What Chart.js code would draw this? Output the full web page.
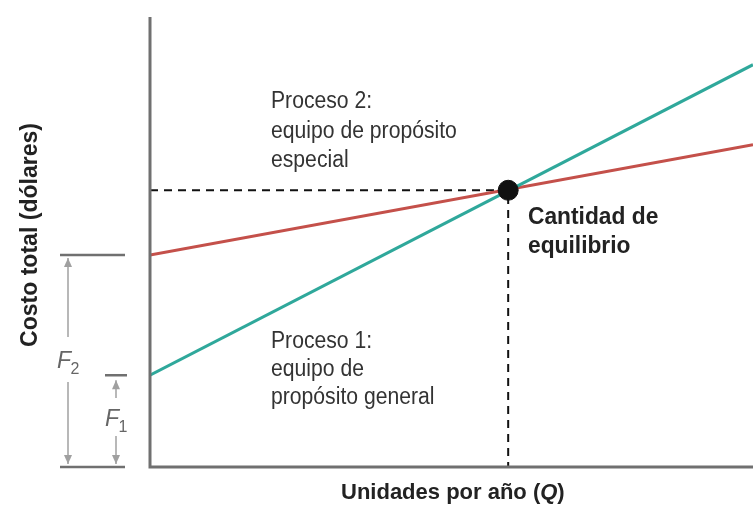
<!DOCTYPE html>
<html>
<head>
<meta charset="utf-8">
<script src="https://cdn.jsdelivr.net/npm/chart.js@4/dist/chart.umd.min.js"></script>
<style>
  body { margin: 0; background: #fff; }
  #wrap { width: 753px; height: 505px; }
</style>
</head>
<body>
<div id="wrap"><canvas id="chart" width="753" height="505"></canvas></div>
<script>
// units per year (start, end of the drawn range)
const units = [0, 100];
// total cost of each process at those units
const proceso1 = [20.4, 89.4];   // general purpose equipment
const proceso2 = [47.1, 71.6];   // special purpose equipment
// break-even point [units, cost]
const equilibrio = [59.4, 61.5];
// fixed costs
const fixedCosts = { F1: proceso1[0], F2: proceso2[0] };

const TEAL = "#2fa89b";
const RED = "#c4504a";
const GRAY = "#707070";
const LIGHT = "#a0a0a0";
const FONT = "'Liberation Sans', Arial, sans-serif";

// axes, fixed-cost brackets and text labels
const annotations = {
  id: "annotations",
  afterDatasetsDraw(chart) {
    const { ctx, chartArea: a, scales: { x, y } } = chart;
    ctx.save();

    // axes
    ctx.strokeStyle = GRAY;
    ctx.lineWidth = 3;
    ctx.beginPath();
    ctx.moveTo(a.left, a.top);
    ctx.lineTo(a.left, a.bottom);
    ctx.lineTo(a.right, a.bottom);
    ctx.stroke();

    // fixed cost brackets
    const y0 = y.getPixelForValue(0);
    const yF1 = y.getPixelForValue(fixedCosts.F1);
    const yF2 = y.getPixelForValue(fixedCosts.F2);
    ctx.lineWidth = 2.5;
    ctx.beginPath();
    ctx.moveTo(60, yF2); ctx.lineTo(125, yF2);
    ctx.moveTo(105, yF1); ctx.lineTo(127, yF1);
    ctx.moveTo(60, y0); ctx.lineTo(125, y0);
    ctx.stroke();

    const arrow = (cx, from, to) => {
      const dir = Math.sign(to - from);
      ctx.beginPath();
      ctx.moveTo(cx, from); ctx.lineTo(cx, to);
      ctx.stroke();
      ctx.beginPath();
      ctx.moveTo(cx, to);
      ctx.lineTo(cx - 4, to - dir * 9);
      ctx.lineTo(cx + 4, to - dir * 9);
      ctx.closePath();
      ctx.fill();
    };
    ctx.strokeStyle = LIGHT;
    ctx.fillStyle = LIGHT;
    ctx.lineWidth = 1.5;
    arrow(68, 337, yF2 + 3);
    arrow(68, 382, y0 - 3);
    arrow(116, 398, yF1 + 5);
    arrow(116, 436, y0 - 3);

    // F labels
    ctx.fillStyle = "#666";
    ctx.textAlign = "center";
    ctx.textBaseline = "alphabetic";
    const fLabel = (cx, cy, sub) => {
      ctx.font = "italic 23px " + FONT;
      ctx.fillText("F", cx - 4, cy);
      ctx.font = "16px " + FONT;
      ctx.fillText(sub, cx + 7, cy + 6);
    };
    fLabel(68, 368, "2");
    fLabel(116, 426, "1");

    // process labels
    ctx.fillStyle = "#333";
    ctx.textAlign = "left";
    const narrow = (txt, px, py, font, sx) => {
      ctx.save();
      ctx.translate(px, py);
      ctx.scale(sx, 1);
      ctx.font = font;
      ctx.fillText(txt, 0, 0);
      ctx.restore();
    };
    const reg = "23px " + FONT;
    const bold = "bold 23px " + FONT;
    narrow("Proceso 2:", 271, 108, reg, 0.92);
    narrow("equipo de propósito", 271, 138, reg, 0.92);
    narrow("especial", 271, 167, reg, 0.92);
    narrow("Proceso 1:", 271, 348, reg, 0.92);
    narrow("equipo de", 271, 376, reg, 0.92);
    narrow("propósito general", 271, 404, reg, 0.92);
    ctx.fillStyle = "#222";
    narrow("Cantidad de", 528, 224, bold, 0.99);
    narrow("equilibrio", 528, 253, bold, 0.99);

    // axis titles
    ctx.fillStyle = "#222";
    ctx.font = "bold 22px " + FONT;
    const t1 = "Unidades por año (";
    ctx.save();
    ctx.translate(341, 499);
    ctx.scale(1.0, 1);
    ctx.fillText(t1, 0, 0);
    let w = ctx.measureText(t1).width;
    ctx.font = "bold italic 22px " + FONT;
    ctx.fillText("Q", w, 0);
    w += ctx.measureText("Q").width;
    ctx.font = "bold 22px " + FONT;
    ctx.fillText(")", w, 0);
    ctx.restore();

    ctx.save();
    ctx.translate(37, 235);
    ctx.rotate(-Math.PI / 2);
    ctx.scale(0.96, 1);
    ctx.font = "bold 24px " + FONT;
    ctx.textAlign = "center";
    ctx.fillText("Costo total (dólares)", 0, 0);
    ctx.restore();

    ctx.restore();
  }
};

new Chart(document.getElementById("chart"), {
  type: "scatter",
  data: {
    datasets: [
      {
        label: "Proceso 1",
        data: units.map((u, i) => ({ x: u, y: proceso1[i] })),
        showLine: true,
        borderColor: TEAL,
        borderWidth: 3,
        pointRadius: 0,
        order: 2,
      },
      {
        label: "Proceso 2",
        data: units.map((u, i) => ({ x: u, y: proceso2[i] })),
        showLine: true,
        borderColor: RED,
        borderWidth: 3,
        pointRadius: 0,
        order: 2,
      },
      {
        label: "guia",
        data: [
          { x: units[0], y: equilibrio[1] },
          { x: equilibrio[0], y: equilibrio[1] },
          { x: equilibrio[0], y: 0 },
        ],
        showLine: true,
        borderColor: "#111",
        borderWidth: 2,
        borderDash: [8, 6],
        pointRadius: 0,
        order: 3,
      },
      {
        label: "Cantidad de equilibrio",
        data: [{ x: equilibrio[0], y: equilibrio[1] }],
        pointRadius: 10,
        pointBackgroundColor: "#111",
        pointBorderColor: "#111",
        order: 1,
      },
    ],
  },
  options: {
    responsive: false,
    animation: false,
    layout: { autoPadding: false, padding: { left: 150, right: 0, top: 17, bottom: 38 } },
    plugins: { legend: { display: false }, tooltip: { enabled: false } },
    scales: {
      x: { type: "linear", min: 0, max: 100, display: false },
      y: { type: "linear", min: 0, max: 100, display: false },
    },
  },
  plugins: [annotations],
});
</script>
</body>
</html>
